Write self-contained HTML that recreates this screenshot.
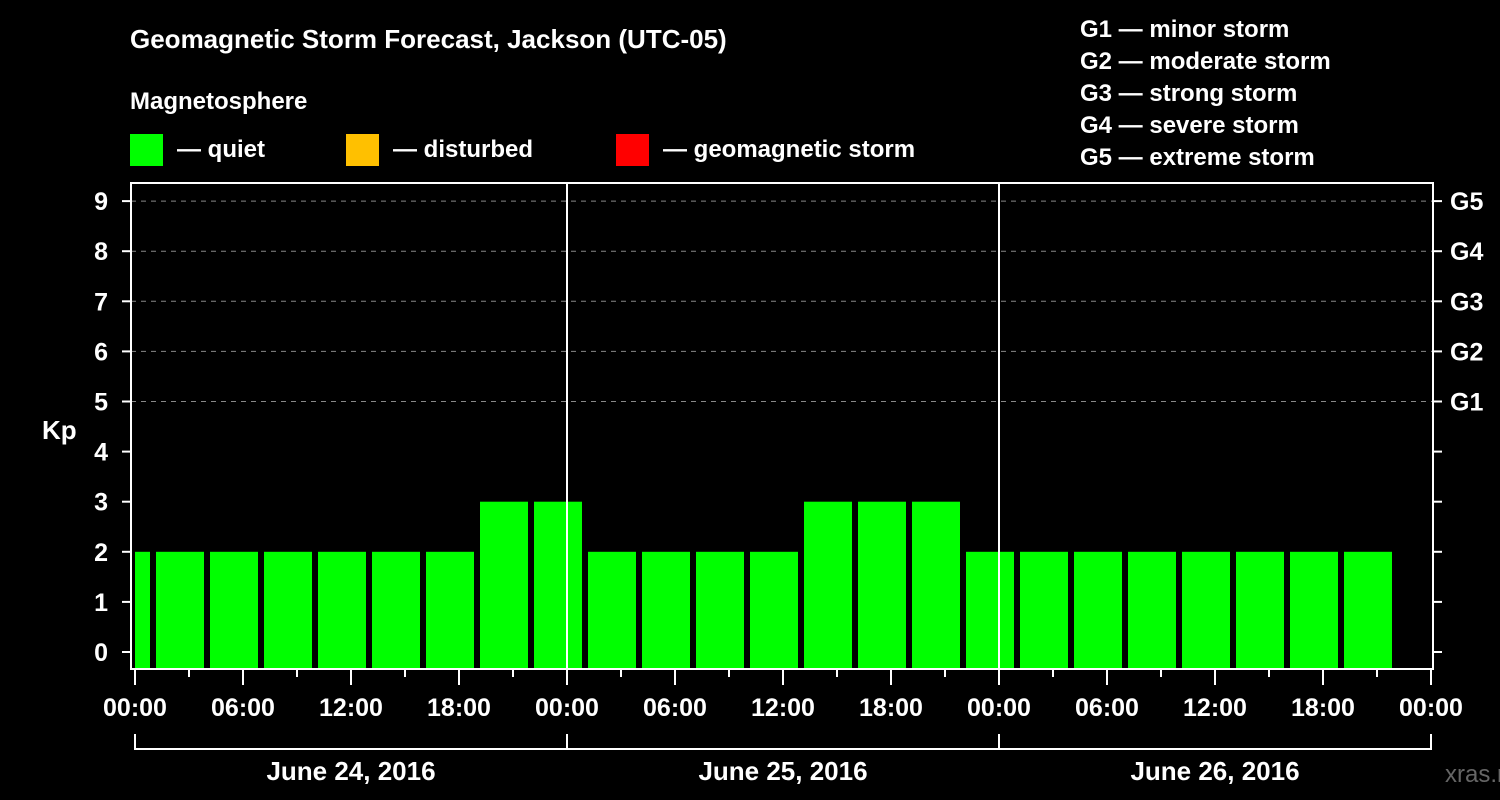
<!DOCTYPE html>
<html><head><meta charset="utf-8"><style>
html,body{margin:0;padding:0;background:#000;}
svg{display:block;font-family:"Liberation Sans",Arial,sans-serif;font-weight:bold;}
</style></head><body>
<svg id="c" width="1500" height="800" viewBox="0 0 1500 800">
<text x="130" y="48" fill="#fff" font-size="26">Geomagnetic Storm Forecast, Jackson (UTC-05)</text>
<text x="130" y="109" fill="#fff" font-size="24">Magnetosphere</text>
<g><rect x="130" y="134" width="33" height="32" fill="#00ff00"/><text x="177" y="157" fill="#fff" font-size="24">— quiet</text></g>
<g><rect x="346" y="134" width="33" height="32" fill="#ffc000"/><text x="393" y="157" fill="#fff" font-size="24">— disturbed</text></g>
<g><rect x="616" y="134" width="33" height="32" fill="#ff0000"/><text x="663" y="157" fill="#fff" font-size="24">— geomagnetic storm</text></g>
<g fill="#fff" font-size="24">
<text x="1080" y="37">G1 — minor storm</text>
<text x="1080" y="69">G2 — moderate storm</text>
<text x="1080" y="101">G3 — strong storm</text>
<text x="1080" y="133">G4 — severe storm</text>
<text x="1080" y="165">G5 — extreme storm</text>
</g>
<text x="42" y="439" fill="#fff" font-size="26">Kp</text>
<text x="1445" y="782" fill="#666" font-size="24" font-weight="normal">xras.ru</text>
<defs><clipPath id="pc"><rect x="135" y="182" width="1296" height="487"/></clipPath></defs>
<g id="grid"></g><g id="bars" clip-path="url(#pc)"></g><g id="axes"></g>
</svg>
<script>
const kpValues=[2,2,2,2,2,2,2,2,3,3,2,2,2,2,3,3,3,2,2,2,2,2,2,2,2];
const yTicks=[0,1,2,3,4,5,6,7,8,9];
const gLabels=["G1","G2","G3","G4","G5"];
const gLevels=[5,6,7,8,9];
const hourLabels=["00:00","06:00","12:00","18:00"];
const dayLabels=["June 24, 2016","June 25, 2016","June 26, 2016"];
const firstBarHour=-5; // bars start 22:00 previous day minus offset
const NS="http://www.w3.org/2000/svg";
const x0=135,pxH=18,y0=652,pxK=50.1;
const X=h=>x0+h*pxH, Y=k=>y0-k*pxK;
function mk(p,t,a){const e=document.createElementNS(NS,t);for(const k in a)e.setAttribute(k,a[k]);p.appendChild(e);return e;}
const grid=document.getElementById('grid'),bars=document.getElementById('bars'),ax=document.getElementById('axes');
gLevels.forEach(k=>{const l=mk(grid,'line',{x1:131,x2:1432,y1:Y(k),y2:Y(k),stroke:'#888','stroke-dasharray':'5 5','stroke-width':1});

});
kpValues.forEach((v,i)=>{const s=firstBarHour+i*3;
const c=v>=5?'#ff0000':(v>=4?'#ffc000':'#00ff00');
const r=mk(bars,'rect',{x:X(s)+3,y:Y(v),width:3*pxH-6,height:669-Y(v),fill:c});

});
[1,2].forEach(d=>{const l=mk(ax,'line',{x1:X(24*d),x2:X(24*d),y1:182,y2:669,stroke:'#fff','stroke-width':2});

});
const fr=mk(ax,'rect',{x:131,y:183,width:1302,height:486,fill:'none',stroke:'#fff','stroke-width':2});


yTicks.forEach(k=>{mk(ax,'line',{x1:122,x2:131,y1:Y(k),y2:Y(k),stroke:'#fff','stroke-width':2});
mk(ax,'line',{x1:1433,x2:1442,y1:Y(k),y2:Y(k),stroke:'#fff','stroke-width':2});
const t=mk(ax,'text',{x:108,y:Y(k)+9,fill:'#fff','font-size':25,'text-anchor':'end'});t.textContent=k;

});
gLevels.forEach((k,i)=>{const t=mk(ax,'text',{x:1450,y:Y(k)+9,fill:'#fff','font-size':25});t.textContent=gLabels[i];

});
for(let h=0;h<=72;h+=3){const major=h%6===0;
mk(ax,'line',{x1:X(h),x2:X(h),y1:669,y2:major?685:677,stroke:'#fff','stroke-width':2});
if(major){const t=mk(ax,'text',{x:X(h),y:716,fill:'#fff','font-size':25,'text-anchor':'middle'});t.textContent=hourLabels[(h/6)%4];

}}
mk(ax,'path',{d:`M${X(0)} 734V749H${X(72)}V734`,fill:'none',stroke:'#fff','stroke-width':2});
[1,2].forEach(d=>mk(ax,'line',{x1:X(24*d),x2:X(24*d),y1:734,y2:749,stroke:'#fff','stroke-width':2}));
dayLabels.forEach((s,d)=>{const t=mk(ax,'text',{x:X(24*d+12),y:780,fill:'#fff','font-size':26,'text-anchor':'middle'});t.textContent=s;

});
</script>
</body></html>
